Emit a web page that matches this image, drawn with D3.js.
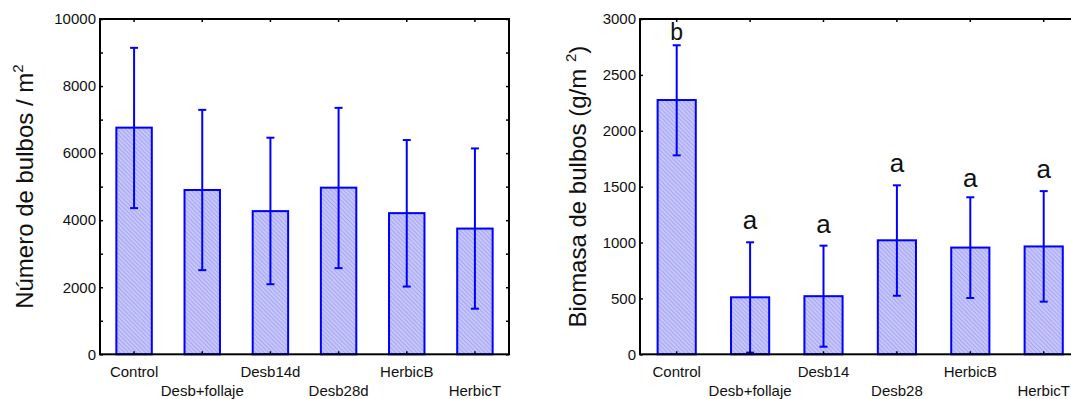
<!DOCTYPE html>
<html>
<head>
<meta charset="utf-8">
<script src="https://cdn.jsdelivr.net/npm/d3@7"></script>
<style>
    body { margin: 0; background: #fff; }
    svg { display: block; font-family: "Liberation Sans", Arial, sans-serif; }
    .axis text { font-size: 15px; fill: #111; }
    .axis line { stroke: #000; stroke-width: 1.5; }
    .axis path { display: none; }
</style>
</head>
<body>
<div id="chart"></div>
<script>
// categories for each panel
const LEFT_CATEGORIES = ["Control", "Desb+follaje", "Desb14d", "Desb28d", "HerbicB", "HerbicT"];
const RIGHT_CATEGORIES = ["Control", "Desb+follaje", "Desb14", "Desb28", "HerbicB", "HerbicT"];

// bulb number per m2 (mean, error bar top, error bar bottom)
const LEFT_MEANS = [6760, 4900, 4270, 4970, 4210, 3750];
const LEFT_ERR_HIGH = [9140, 7290, 6460, 7350, 6390, 6140];
const LEFT_ERR_LOW = [4360, 2510, 2090, 2570, 2020, 1360];

// bulb biomass g/m2 (mean, error bar top, error bar bottom)
const RIGHT_MEANS = [2275, 510, 520, 1020, 955, 965];
const RIGHT_ERR_HIGH = [2765, 1002, 972, 1512, 1405, 1460];
const RIGHT_ERR_LOW = [1780, 15, 68, 524, 504, 471];

// significance letters and the value height where each letter sits
const RIGHT_LETTERS = ["b", "a", "a", "a", "a", "a"];
const RIGHT_LETTER_POS = [2812, 1118, 1083, 1634, 1500, 1575];

// tick values
const LEFT_TICKS = [0, 1000, 2000, 3000, 4000, 5000, 6000, 7000, 8000, 9000, 10000];
const RIGHT_TICKS = [0, 500, 1000, 1500, 2000, 2500, 3000];

const svg = d3.select("#chart")
    .append("svg")
    .attr("width", 1071)
    .attr("height", 399);

// hatch pattern used to fill the bars
const defs = svg.append("defs");
const pattern = defs.append("pattern")
    .attr("id", "hatch")
    .attr("patternUnits", "userSpaceOnUse")
    .attr("width", 3)
    .attr("height", 3)
    .attr("patternTransform", "rotate(-45)");
pattern.append("rect")
    .attr("width", 3)
    .attr("height", 3)
    .attr("fill", "#c6c6fc");
pattern.append("line")
    .attr("x1", 0).attr("y1", 0)
    .attr("x2", 0).attr("y2", 3)
    .attr("stroke", "#9494ec")
    .attr("stroke-width", 1.2);

function drawPanel(opts) {
    const { left, right, top, bottom, categories, means, errHigh, errLow,
            maxY, ticks, labelEvery, title, titleX, letters, letterPos, letterSize } = opts;

    const x = d3.scaleBand()
        .domain(categories)
        .range([left, right])
        .padding(0);

    const y = d3.scaleLinear()
        .domain([0, maxY])
        .range([bottom, top]);

    const g = svg.append("g");

    const rows = categories.map((c, i) => ({
        cat: c, mean: means[i], hi: errHigh[i], lo: errLow[i]
    }));

    const barW = x.bandwidth() * 0.52;

    // bars
    g.selectAll(".bar")
        .data(rows)
        .enter()
        .append("rect")
        .attr("class", "bar")
        .attr("x", d => x(d.cat) + x.bandwidth() / 2 - barW / 2)
        .attr("y", d => y(d.mean))
        .attr("width", barW)
        .attr("height", d => y(0) - y(d.mean))
        .attr("fill", "url(#hatch)")
        .attr("stroke", "#0000ff")
        .attr("stroke-width", 2);

    // error bars
    const cx = d => x(d.cat) + x.bandwidth() / 2;
    g.selectAll(".err")
        .data(rows)
        .enter()
        .append("line")
        .attr("x1", cx).attr("x2", cx)
        .attr("y1", d => y(d.hi))
        .attr("y2", d => y(d.lo))
        .attr("stroke", "#0000ff")
        .attr("stroke-width", 2);

    ["hi", "lo"].forEach(k => {
        g.selectAll(".cap-" + k)
            .data(rows)
            .enter()
            .append("line")
            .attr("x1", d => cx(d) - 4)
            .attr("x2", d => cx(d) + 4)
            .attr("y1", d => y(d[k]))
            .attr("y2", d => y(d[k]))
            .attr("stroke", "#0000ff")
            .attr("stroke-width", 2);
    });

    // left axis with labels
    g.append("g")
        .attr("class", "axis")
        .attr("transform", `translate(${left},0)`)
        .call(d3.axisLeft(y)
            .tickValues(ticks)
            .tickSizeInner(-3)
            .tickSizeOuter(0)
            .tickPadding(4)
            .tickFormat((d, i) => (i % labelEvery === 0 ? d : "")));

    // right axis, ticks only
    g.append("g")
        .attr("class", "axis")
        .attr("transform", `translate(${right},0)`)
        .call(d3.axisRight(y)
            .tickValues(ticks)
            .tickSizeInner(-3)
            .tickSizeOuter(0)
            .tickFormat(""));

    // top axis, ticks only
    g.append("g")
        .attr("class", "axis")
        .attr("transform", `translate(0,${top})`)
        .call(d3.axisTop(x)
            .tickSizeInner(-3)
            .tickSizeOuter(0)
            .tickFormat(""));

    // bottom axis with staggered labels
    const bottomAxis = g.append("g")
        .attr("class", "axis")
        .attr("transform", `translate(0,${bottom})`)
        .call(d3.axisBottom(x)
            .tickSizeInner(-3)
            .tickSizeOuter(0));

    bottomAxis.selectAll("text")
        .attr("dy", 0)
        .attr("y", (d, i) => (i % 2 === 0 ? 23 : 42));

    // frame
    g.append("rect")
        .attr("x", left)
        .attr("y", top)
        .attr("width", right - left)
        .attr("height", bottom - top)
        .attr("fill", "none")
        .attr("stroke", "#000")
        .attr("stroke-width", 2);

    // axis title
    const t = g.append("text")
        .attr("transform", `translate(${titleX},${(top + bottom) / 2}) rotate(-90)`)
        .attr("text-anchor", "middle")
        .attr("font-size", 24)
        .attr("fill", "#111");
    t.append("tspan").text(title[0]);
    t.append("tspan").attr("font-size", 15).attr("dy", -10).text("2");
    if (title[1]) t.append("tspan").attr("dy", 10).text(title[1]);

    // significance letters
    if (letters) {
        g.selectAll(".letter")
            .data(rows)
            .enter()
            .append("text")
            .attr("x", cx)
            .attr("y", (d, i) => y(letterPos[i]))
            .attr("text-anchor", "middle")
            .attr("font-size", (d, i) => letterSize[letters[i]])
            .attr("fill", "#111")
            .text((d, i) => letters[i]);
    }
}

drawPanel({
    left: 100, right: 509, top: 19, bottom: 354.3,
    categories: LEFT_CATEGORIES,
    means: LEFT_MEANS, errHigh: LEFT_ERR_HIGH, errLow: LEFT_ERR_LOW,
    maxY: 10000, ticks: LEFT_TICKS, labelEvery: 2,
    title: ["Número de bulbos / m", ""], titleX: 33
});

drawPanel({
    left: 640, right: 1080.4, top: 19, bottom: 354.3,
    categories: RIGHT_CATEGORIES,
    means: RIGHT_MEANS, errHigh: RIGHT_ERR_HIGH, errLow: RIGHT_ERR_LOW,
    maxY: 3000, ticks: RIGHT_TICKS, labelEvery: 1,
    title: ["Biomasa de bulbos (g/m ", ")"], titleX: 586,
    letters: RIGHT_LETTERS, letterPos: RIGHT_LETTER_POS,
    letterSize: { a: 26, b: 23 }
});
</script>
</body>
</html>
